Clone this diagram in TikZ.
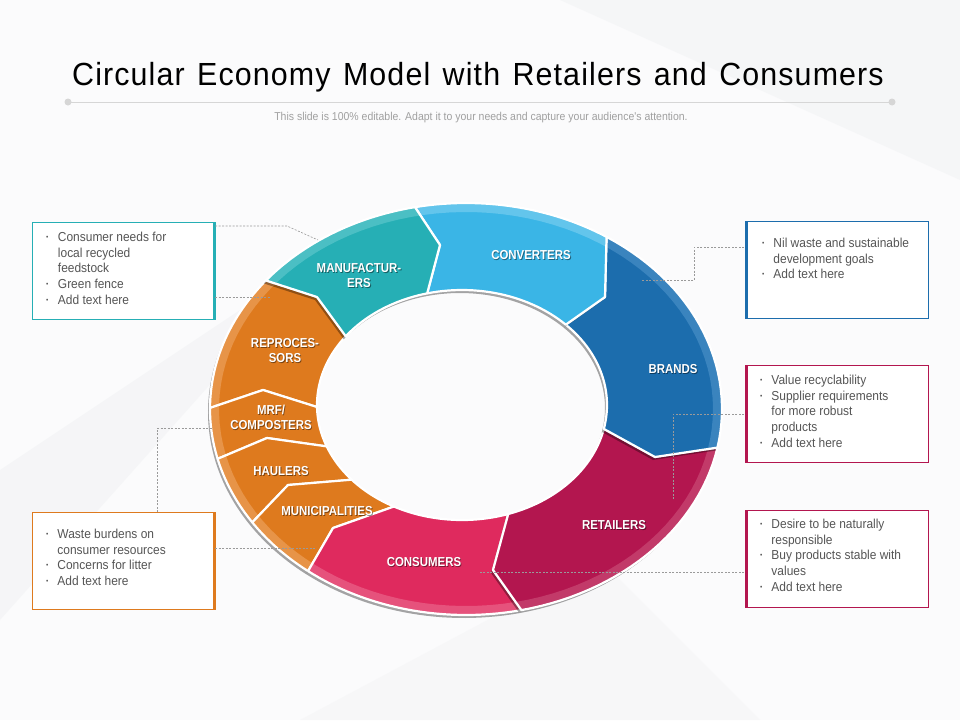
\documentclass[tikz,border=0pt]{standalone}
\usepackage{fontspec}
\setmainfont{Liberation Sans}
\newfontfamily\titlefont[FakeStretch=0.95,LetterSpace=3.5,WordSpace=1.3]{Liberation Sans}
\newfontfamily\bodyfont[FakeStretch=0.92]{Liberation Sans}
\newfontfamily\labfont[FakeStretch=0.88]{Liberation Sans}
\usetikzlibrary{calc}
\definecolor{cTeal}{HTML}{26AFB5}
\definecolor{cTealL}{HTML}{4BBFC4}
\definecolor{cSky}{HTML}{3AB5E6}
\definecolor{cSkyL}{HTML}{63C5EC}
\definecolor{cBlue}{HTML}{1C6DAD}
\definecolor{cBlueL}{HTML}{3A84BE}
\definecolor{cCrim}{HTML}{B3164F}
\definecolor{cCrimL}{HTML}{C23A69}
\definecolor{cPink}{HTML}{DF2A5E}
\definecolor{cPinkL}{HTML}{E6527C}
\definecolor{cOrng}{HTML}{DE7A1E}
\definecolor{cOrngL}{HTML}{E79448}
\definecolor{cTxt}{HTML}{555555}
\definecolor{cSub}{HTML}{A0A0A0}
\definecolor{cRule}{HTML}{D6D6D6}
\definecolor{cLead}{HTML}{9A9A9A}
\definecolor{cBg}{HTML}{FBFBFC}
\definecolor{cBgD}{HTML}{F1F2F4}
\newcommand\segp[6]{plot[domain=#1:#2,samples=30]({466+256*cos(\x)},{409+206*sin(\x)}) -- #3 -- plot[domain=#4:#5,samples=30]({462+145*cos(\x)},{405+115*sin(\x)}) -- #6 -- cycle}
\newcommand\ringseg[8]{%
  \fill[black,opacity=0.35,shift={(-2,3)}] \segp{#3}{#4}{#5}{#6}{#7}{#8};
  \begin{scope}
    \clip \segp{#3}{#4}{#5}{#6}{#7}{#8};
    \fill[#1] (0,0) rectangle (960,720);
    \draw[#2,line width=18] plot[domain=0:360,samples=120]({466+256*cos(\x)},{409+206*sin(\x)});
  \end{scope}
  \draw[white,line width=2.2,line join=round] \segp{#3}{#4}{#5}{#6}{#7}{#8};
}
\newcommand\bul{\raisebox{2pt}{\fontsize{7}{7}\selectfont\textbullet}}
\tikzset{
  labst/.style={text=white,font=\labfont\bfseries\fontsize{13}{15}\selectfont,align=center,inner sep=0},
  boxst/.style={draw=#1,line width=0.8,fill=white,minimum width=182,minimum height=97,anchor=north west,inner sep=0},
  barst/.style={draw=#1,line width=3},
  lead/.style={draw=cLead,dashed,dash pattern=on 2pt off 1.5pt,line width=0.6},
  btext/.style={anchor=north west,inner sep=0,text=cTxt,font=\bodyfont\fontsize{13}{15.8}\selectfont}
}
\begin{document}
\begin{tikzpicture}[x=1pt,y=-1pt]
\useasboundingbox (0,0) rectangle (960,720);
\fill[cBg] (0,0) rectangle (960,720);
\fill[cBgD,opacity=0.6] (0,470) -- (330,250) -- (0,620) -- cycle;
\fill[cBgD,opacity=0.5] (560,0) -- (960,0) -- (960,180) -- cycle;
\fill[cBgD,opacity=0.4] (300,720) -- (600,560) -- (760,720) -- cycle;

% title
\node[font=\titlefont\fontsize{32}{36}\selectfont,inner sep=0] (title) at (478,77) {Circular Economy Model with Retailers and Consumers};
\coordinate (ruleL) at (68,102);
\coordinate (ruleR) at (892,102);
\draw[cRule,line width=1] (ruleL) -- (ruleR);
\fill[cRule] (ruleL) circle[radius=3.5pt];
\fill[cRule] (ruleR) circle[radius=3.5pt];
\node[font=\bodyfont\fontsize{11.4}{12}\selectfont,text=cSub,inner sep=0] (sub) at (481,118) {This slide is 100\% editable. Adapt it to your needs and capture your audience's attention.};

% ring
\ringseg{cOrng}{cOrngL}{180.3}{218.6}{(317,297)}{216.7}{179}{(263,390)}
\ringseg{cOrng}{cOrngL}{166}{180.3}{(263,390)}{179}{158.9}{(267,438)}
\ringseg{cOrng}{cOrngL}{146.6}{166}{(267,438)}{158.9}{139.5}{(288,485)}
\ringseg{cOrng}{cOrngL}{128.1}{146.6}{(288,485)}{139.5}{118}{(333,528)}
\ringseg{cPink}{cPinkL}{77.5}{128.1}{(333,528)}{118}{71.4}{(493,570)}
\ringseg{cCrim}{cCrimL}{10.8}{77.5}{(493,570)}{71.4}{12}{(655,457)}
\ringseg{cBlue}{cBlueL}{303.3}{370.8}{(655,457)}{372}{315.7}{(605,297)}
\ringseg{cSky}{cSkyL}{258.5}{303.3}{(605,297)}{315.7}{256.1}{(440,245)}
\ringseg{cTeal}{cTealL}{218.6}{258.5}{(440,245)}{256.1}{216.7}{(317,297)}

% labels
\foreach \p/\n/\t in {{359,276}/manuf/{MANUFACTUR-\\ERS},{531,255}/conv/CONVERTERS,{673,369}/brand/BRANDS,{614,525}/retail/RETAILERS,{424,562}/cons/CONSUMERS,{327,511}/munic/MUNICIPALITIES,{281,471}/haul/HAULERS,{271,417}/mrf/{MRF/\\COMPOSTERS},{285,351}/repro/{REPROCES-\\SORS}}{
  \node[labst,text=black,opacity=0.45] (\n s) at ($(\p)+(0.9,0.9)$) {\t};
  \node[labst] (\n) at (\p) {\t};
}

% boxes
\node[boxst=cTeal] (boxTL) at (32,222) {};
\draw[barst=cTeal] (boxTL.north east) -- (boxTL.south east);
\node[boxst=cOrng] (boxBL) at (32,512) {};
\draw[barst=cOrng] (boxBL.north east) -- (boxBL.south east);
\node[boxst=cBlue] (boxTR) at (746,221) {};
\draw[barst=cBlue] (boxTR.north west) -- (boxTR.south west);
\node[boxst=cCrim] (boxMR) at (746,365) {};
\draw[barst=cCrim] (boxMR.north west) -- (boxMR.south west);
\node[boxst=cCrim] (boxBR) at (746,510) {};
\draw[barst=cCrim] (boxBR.north west) -- (boxBR.south west);

% box texts
\node[btext] (tTL) at (46,230) {\begin{tabular}{@{}l@{\hspace{9.5pt}}l@{}}\bul & Consumer needs for\\ & local recycled\\ & feedstock\\ \bul & Green fence\\ \bul & Add text here\end{tabular}};
\node[btext] (tBL) at (46,527) {\begin{tabular}{@{}l@{\hspace{9pt}}l@{}}\bul & Waste burdens on\\ & consumer resources\\ \bul & Concerns for litter\\ \bul & Add text here\end{tabular}};
\node[btext] (tTR) at (762,236) {\begin{tabular}{@{}l@{\hspace{9pt}}l@{}}\bul & Nil waste and sustainable\\ & development goals\\ \bul & Add text here\end{tabular}};
\node[btext] (tMR) at (760,373) {\begin{tabular}{@{}l@{\hspace{9pt}}l@{}}\bul & Value recyclability\\ \bul & Supplier requirements\\ & for more robust\\ & products\\ \bul & Add text here\end{tabular}};
\node[btext] (tBR) at (760,517) {\begin{tabular}{@{}l@{\hspace{9pt}}l@{}}\bul & Desire to be naturally\\ & responsible\\ \bul & Buy products stable with\\ & values\\ \bul & Add text here\end{tabular}};

% leaders
\coordinate (lTL1) at (215,226); \coordinate (eTL1) at (318,240);
\draw[lead] (lTL1) -- (287,226) -- (eTL1);
\coordinate (lTL2) at (215,297); \coordinate (eTL2) at (270,297);
\draw[lead] (lTL2) -- (eTL2);
\coordinate (lBL1) at (157,512); \coordinate (eBL1) at (213,428);
\draw[lead] (lBL1) |- (eBL1);
\coordinate (lBL2) at (215,548); \coordinate (eBL2) at (316,548);
\draw[lead] (lBL2) -- (eBL2);
\coordinate (lTR) at (744,247); \coordinate (eTR) at (642,280);
\draw[lead] (lTR) -- (694,247) -- (694,280) -- (eTR);
\coordinate (lMR) at (744,414); \coordinate (eMR) at (673,500);
\draw[lead] (lMR) -| (eMR);
\coordinate (lBR) at (744,572); \coordinate (eBR) at (478,572);
\draw[lead] (lBR) -- (eBR);
\end{tikzpicture}
\end{document}
